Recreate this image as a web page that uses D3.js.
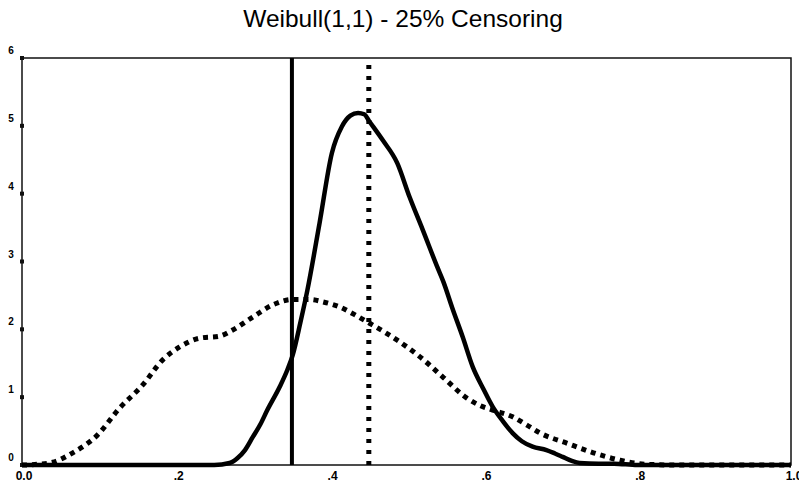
<!DOCTYPE html>
<html>
<head>
<meta charset="utf-8">
<script src="https://cdn.jsdelivr.net/npm/d3@7"></script>
<style>
  body { margin: 0; background: #fff; }
  svg { display: block; }
</style>
</head>
<body>
<div id="chart"></div>
<script>
// data
const xTicks = [0, 0.2, 0.4, 0.6, 0.8, 1.0];
const xTickLabels = ["0.0", ".2", ".4", ".6", ".8", "1.0"];
const yTicks = [0, 1, 2, 3, 4, 5, 6];

// solid density
const solidX = [0, 0.1, 0.2, 0.25, 0.27, 0.28, 0.29, 0.30, 0.31, 0.319, 0.335, 0.345, 0.352, 0.362, 0.371, 0.387, 0.403, 0.416, 0.427, 0.437, 0.445, 0.452, 0.469, 0.488, 0.504, 0.521, 0.54, 0.548, 0.56, 0.573, 0.586, 0.60, 0.612, 0.625, 0.638, 0.65, 0.664, 0.682, 0.693, 0.703, 0.715, 0.725, 0.75, 0.77, 0.8, 1.0];
const solidY = [0, 0, 0, 0, 0.03, 0.1, 0.22, 0.41, 0.6, 0.81, 1.15, 1.4, 1.62, 2.1, 2.57, 3.57, 4.6, 4.99, 5.15, 5.19, 5.17, 5.06, 4.79, 4.45, 3.95, 3.47, 2.92, 2.7, 2.3, 1.89, 1.45, 1.12, 0.86, 0.65, 0.47, 0.35, 0.27, 0.22, 0.17, 0.12, 0.06, 0.03, 0.02, 0.02, 0, 0];

// dotted density
const dotX = [0, 0.02, 0.04, 0.066, 0.098, 0.127, 0.157, 0.183, 0.205, 0.231, 0.257, 0.274, 0.30, 0.326, 0.352, 0.374, 0.393, 0.413, 0.432, 0.452, 0.47, 0.488, 0.518, 0.547, 0.578, 0.595, 0.612, 0.638, 0.655, 0.674, 0.709, 0.743, 0.778, 0.813, 0.85, 1.0];
const dotY = [0, 0.01, 0.04, 0.18, 0.44, 0.84, 1.18, 1.55, 1.74, 1.87, 1.90, 1.99, 2.18, 2.36, 2.44, 2.44, 2.40, 2.33, 2.22, 2.09, 1.97, 1.84, 1.59, 1.30, 0.99, 0.88, 0.81, 0.71, 0.60, 0.47, 0.32, 0.18, 0.07, 0.01, 0, 0];

// vertical reference lines
const solidRef = 0.351;
const dotRef = 0.451;

const W = 799, H = 483;
const margin = { top: 58, right: 8, bottom: 18, left: 22 };

const svg = d3.select("#chart").append("svg")
  .attr("width", W)
  .attr("height", H);

const x = d3.scaleLinear().domain([0, 1]).range([margin.left, W - margin.right]);
const y = d3.scaleLinear().domain([0, 6]).range([H - margin.bottom, margin.top]);

// title
svg.append("text")
  .attr("x", 403)
  .attr("y", 27)
  .attr("text-anchor", "middle")
  .style("font-family", "Liberation Sans, Arial, sans-serif")
  .style("font-size", "24.5px")
  .text("Weibull(1,1) - 25% Censoring");

// frame
svg.append("rect")
  .attr("x", x(0))
  .attr("y", y(6))
  .attr("width", x(1) - x(0))
  .attr("height", y(0) - y(6))
  .attr("fill", "none")
  .attr("stroke", "#111")
  .attr("stroke-width", 1.5);

// y ticks: little squares on the axis + labels above-left
svg.selectAll(".ytick").data(yTicks).join("rect")
  .attr("class", "ytick")
  .attr("x", x(0) - 2)
  .attr("y", d => y(d) - 2)
  .attr("width", 4)
  .attr("height", 4)
  .attr("fill", "#111");

svg.selectAll(".ylab").data(yTicks).join("text")
  .attr("class", "ylab")
  .attr("x", 11)
  .attr("y", d => y(d) - 4)
  .attr("text-anchor", "middle")
  .style("font-family", "Liberation Sans, Arial, sans-serif")
  .style("font-size", "10px")
  .style("font-weight", "bold")
  .text(d => d);

// x labels (bottom row is cut by the page edge, as in the original)
svg.selectAll(".xlab").data(xTicks).join("text")
  .attr("class", "xlab")
  .attr("x", (d, i) => x(d) + (i === 0 ? 2 : 3))
  .attr("y", y(0) + 15)
  .attr("text-anchor", "middle")
  .style("font-family", "Liberation Sans, Arial, sans-serif")
  .style("font-size", "12px")
  .style("font-weight", "bold")
  .text((d, i) => xTickLabels[i]);

const line = d3.line()
  .x(d => x(d[0]))
  .y(d => y(d[1]))
  .curve(d3.curveMonotoneX);

const solidData = solidX.map((v, i) => [v, solidY[i]]);
const dotData = dotX.map((v, i) => [v, dotY[i]]);

// dotted density
svg.append("path")
  .attr("d", line(dotData))
  .attr("fill", "none")
  .attr("stroke", "#000")
  .attr("stroke-width", 5)
  .attr("stroke-dasharray", "5,5");

// solid density
svg.append("path")
  .attr("d", line(solidData))
  .attr("fill", "none")
  .attr("stroke", "#000")
  .attr("stroke-width", 4.5)
  .attr("stroke-linejoin", "round");

// vertical lines
svg.append("line")
  .attr("x1", x(solidRef)).attr("x2", x(solidRef))
  .attr("y1", y(0)).attr("y2", y(6))
  .attr("stroke", "#000")
  .attr("stroke-width", 4);

svg.append("line")
  .attr("x1", x(dotRef)).attr("x2", x(dotRef))
  .attr("y1", y(0)).attr("y2", y(6))
  .attr("stroke", "#000")
  .attr("stroke-width", 5)
  .attr("stroke-dasharray", "4,7");
</script>
</body>
</html>
